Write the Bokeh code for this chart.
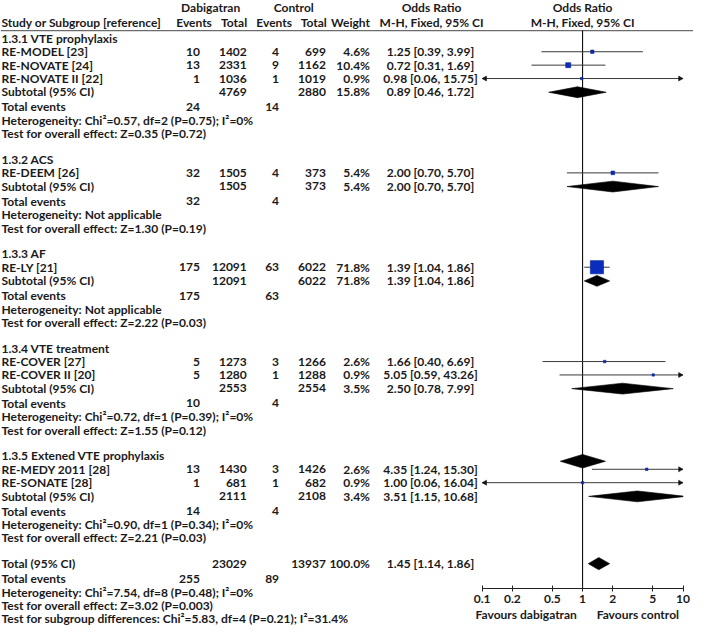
import numpy as np
from bokeh.plotting import figure
from bokeh.models import Range1d, LogScale, LogAxis, FixedTicker, ColumnDataSource
from bokeh.embed import file_html
from bokeh.resources import INLINE
from bokeh.core.properties import value

# ---------------- data ----------------
group_names = ["1.3.1 VTE prophylaxis", "1.3.2 ACS", "1.3.3 AF",
               "1.3.4 VTE treatment", "1.3.5 Extened VTE prophylaxis"]

study = ["RE-MODEL [23]", "RE-NOVATE [24]", "RE-NOVATE II [22]", "RE-DEEM [26]",
         "RE-LY [21]", "RE-COVER [27]", "RE-COVER II [20]", "RE-MEDY 2011 [28]",
         "RE-SONATE [28]"]
study_group = [0, 0, 0, 1, 2, 3, 3, 4, 4]
dab_events = [10, 13, 1, 32, 175, 5, 5, 13, 1]
dab_total = [1402, 2331, 1036, 1505, 12091, 1273, 1280, 1430, 681]
ctl_events = [4, 9, 1, 4, 63, 3, 1, 3, 1]
ctl_total = [699, 1162, 1019, 373, 6022, 1266, 1288, 1426, 682]
weight = [4.6, 10.4, 0.9, 5.4, 71.8, 2.6, 0.9, 2.6, 0.9]
or_est = [1.25, 0.72, 0.98, 2.00, 1.39, 1.66, 5.05, 4.35, 1.00]
or_lo = [0.39, 0.31, 0.06, 0.70, 1.04, 0.40, 0.59, 1.24, 0.06]
or_hi = [3.99, 1.69, 15.75, 5.70, 1.86, 6.69, 43.26, 15.30, 16.04]

sub_dab_total = [4769, 1505, 12091, 2553, 2111]
sub_ctl_total = [2880, 373, 6022, 2554, 2108]
sub_dab_events = [24, 32, 175, 10, 14]
sub_ctl_events = [14, 4, 63, 4, 4]
sub_weight = [15.8, 5.4, 71.8, 3.5, 3.4]
sub_or = [0.89, 2.00, 1.39, 2.50, 3.51]
sub_lo = [0.46, 0.70, 1.04, 0.78, 1.15]
sub_hi = [1.72, 5.70, 1.86, 7.99, 10.68]
sub_het = ["Chi\u00b2=0.57, df=2 (P=0.75); I\u00b2=0%",
           "Not applicable",
           "Not applicable",
           "Chi\u00b2=0.72, df=1 (P=0.39); I\u00b2=0%",
           "Chi\u00b2=0.90, df=1 (P=0.34); I\u00b2=0%"]
sub_test = ["Z=0.35 (P=0.72)", "Z=1.30 (P=0.19)", "Z=2.22 (P=0.03)",
            "Z=1.55 (P=0.12)", "Z=2.21 (P=0.03)"]

# stray diamond drawn near the header of subgroup 1.3.5 in the source figure
stray_group = 4
stray_or, stray_lo, stray_hi = 1.00, 0.60, 1.69

tot_dab_total, tot_ctl_total = 23029, 13937
tot_dab_events, tot_ctl_events = 255, 89
tot_weight = 100.0
tot_or, tot_lo, tot_hi = 1.45, 1.14, 1.86
tot_het = "Chi\u00b2=7.54, df=8 (P=0.48); I\u00b2=0%"
tot_test = "Z=3.02 (P=0.003)"
subgroup_test = "Chi\u00b2=5.83, df=4 (P=0.21); I\u00b2=31.4%"

axis_ticks = [0.1, 0.2, 0.5, 1, 2, 5, 10]
axis_labels = ["0.1", "0.2", "0.5", "1", "2", "5", "10"]
favours_left, favours_right = "Favours dabigatran", "Favours control"
favours_left_at, favours_right_at = 0.275, 3.55

# ---------------- layout (reference pixel space 709 x 643) ----------------
W_REF, H_REF = 709, 646
W, H = 693, 627
SX = W / W_REF
FS = f"{12.3 * SX:.2f}px"
FONT = "Lato"
TXT = "#1a1a1a"

X_ONE = 595.5      # pixel of OR = 1
DEC = 102.8        # pixels per decade
OR_MIN, OR_MAX = 0.1, 10.0

X_NAME, X_DE, X_DT, X_CE, X_CT, X_W, X_OR = 1, 204, 252, 285, 333, 378, 440
Y0, PITCH, PITCH_TE, GAP = 39.0, 13.8, 15.5, 26.5
Y_LINE, Y_AXIS = 31.0, 606.0

p = figure(width=W, height=H, x_range=Range1d(0, W_REF), y_range=Range1d(H_REF, 0),
           x_axis_location=None, y_axis_location=None, toolbar_location=None,
           output_backend="svg", min_border=0, outline_line_color=None)
p.xgrid.grid_line_color = None
p.ygrid.grid_line_color = None
p.background_fill_color = "white"
p.border_fill_color = "white"

lo_ref = 10 ** ((0 - X_ONE) / DEC)
hi_ref = 10 ** ((W_REF - X_ONE) / DEC)
p.extra_x_ranges = {"or": Range1d(lo_ref, hi_ref)}
p.extra_x_scales = {"or": LogScale()}

texts = {}


def add(x, y, t, align="left", bold=True):
    key = (align, bold)
    d = texts.setdefault(key, {"x": [], "y": [], "t": []})
    d["x"].append(x)
    d["y"].append(y)
    d["t"].append(t)


def fmt_or(e, l, h):
    return f"{e:.2f} [{l:.2f}, {h:.2f}]"


# header
add(215, 7, "Dabigatran", "center")
add(300, 7, "Control", "center")
add(441, 7, "Odds Ratio", "center")
add(595.5, 7, "Odds Ratio", "center")
add(X_NAME, 22.5, "Study or Subgroup [reference]", "left")
add(198, 22.5, "Events", "center")
add(239, 22.5, "Total", "center")
add(280, 22.5, "Events", "center")
add(320.5, 22.5, "Total", "center")
add(X_W, 22.5, "Weight", "right")
add(441, 22.5, "M-H, Fixed, 95% CI", "center")
add(595.5, 22.5, "M-H, Fixed, 95% CI", "center")

ci_x0, ci_x1, ci_y = [], [], []
sq_x, sq_y, sq_s = [], [], []
dia_xs, dia_ys = [], []
arr_xs, arr_ys = [], []

ARR_L = 4.5 / DEC
ARR_H = 2.6


def diamond(e, l, h, y, hh):
    le, ll, lh = np.log10(e), np.log10(l), np.log10(h)
    xs, ys = [l, e], [y, y - hh]
    if h > OR_MAX:
        t = (np.log10(OR_MAX) - le) / (lh - le)
        xs += [OR_MAX, OR_MAX]
        ys += [y - hh * (1 - t), y + hh * (1 - t)]
    else:
        xs += [h]
        ys += [y]
    xs += [e]
    ys += [y + hh]
    dia_xs.append(xs)
    dia_ys.append(ys)


y = Y0
header_y = []
for g in range(len(group_names)):
    add(X_NAME, y, group_names[g], "left")
    header_y.append(y)
    for i in range(len(study)):
        if study_group[i] != g:
            continue
        y += PITCH
        add(X_NAME, y, study[i], "left")
        add(X_DE, y, str(dab_events[i]), "right")
        add(X_DT, y, str(dab_total[i]), "right")
        add(X_CE, y, str(ctl_events[i]), "right")
        add(X_CT, y, str(ctl_total[i]), "right")
        add(X_W, y, f"{weight[i]:.1f}%", "right")
        add(X_OR, y, fmt_or(or_est[i], or_lo[i], or_hi[i]), "center")
        lo = max(or_lo[i], OR_MIN)
        hi = min(or_hi[i], OR_MAX)
        ci_x0.append(lo); ci_x1.append(hi); ci_y.append(y)
        sq_x.append(or_est[i]); sq_y.append(y)
        sq_s.append(max(2.4, 13.5 * np.sqrt(weight[i] / 71.8)) * SX)
        if or_lo[i] < OR_MIN:
            b = 10 ** (np.log10(OR_MIN) + ARR_L)
            arr_xs.append([OR_MIN, b, b]); arr_ys.append([y, y - ARR_H, y + ARR_H])
        if or_hi[i] > OR_MAX:
            b = 10 ** (np.log10(OR_MAX) - ARR_L)
            arr_xs.append([OR_MAX, b, b]); arr_ys.append([y, y - ARR_H, y + ARR_H])
    y += PITCH
    add(X_NAME, y, "Subtotal (95% CI)")
    add(X_DT, y, str(sub_dab_total[g]), "right")
    add(X_CT, y, str(sub_ctl_total[g]), "right")
    add(X_W, y, f"{sub_weight[g]:.1f}%", "right")
    add(X_OR, y, fmt_or(sub_or[g], sub_lo[g], sub_hi[g]), "center")
    diamond(sub_or[g], sub_lo[g], sub_hi[g], y + 0.3, 5.6)
    y += PITCH_TE
    add(X_NAME, y, "Total events")
    add(X_DE, y, str(sub_dab_events[g]), "right")
    add(X_CE, y, str(sub_ctl_events[g]), "right")
    y += PITCH
    add(X_NAME, y, "Heterogeneity: " + sub_het[g])
    y += PITCH
    add(X_NAME, y, "Test for overall effect: " + sub_test[g])
    y += GAP

diamond(stray_or, stray_lo, stray_hi, header_y[stray_group] + 5.5, 7.0)

add(X_NAME, y, "Total (95% CI)")
add(X_DT, y, str(tot_dab_total), "right")
add(X_CT, y, str(tot_ctl_total), "right")
add(X_W, y, f"{tot_weight:.1f}%", "right")
add(X_OR, y, fmt_or(tot_or, tot_lo, tot_hi), "center")
diamond(tot_or, tot_lo, tot_hi, y, 6.3)
y += PITCH_TE
add(X_NAME, y, "Total events")
add(X_DE, y, str(tot_dab_events), "right")
add(X_CE, y, str(tot_ctl_events), "right")
y += PITCH
add(X_NAME, y, "Heterogeneity: " + tot_het)
y += PITCH
add(X_NAME, y, "Test for overall effect: " + tot_test)
y += PITCH
add(X_NAME, y, "Test for subgroup differences: " + subgroup_test)

# header rule
p.segment(x0=[0], y0=[Y_LINE], x1=[W_REF], y1=[Y_LINE], line_color="#6b6b6b", line_width=1.4)

# vertical line of no effect
p.segment(x0=[1.0], y0=[Y_LINE], x1=[1.0], y1=[Y_AXIS], x_range_name="or",
          line_color="#111111", line_width=1.1)

# CI lines
p.segment(x0=ci_x0, y0=ci_y, x1=ci_x1, y1=ci_y, x_range_name="or",
          line_color="#3a3a3a", line_width=1.0)
p.patches(xs=arr_xs, ys=arr_ys, x_range_name="or", fill_color="#111111",
          line_color="#111111", line_width=0.5)

# squares
p.scatter(x=sq_x, y=sq_y, size=sq_s, marker="square", x_range_name="or",
          fill_color="#0b2dbd", line_color="#0a2396", line_width=0.6)

# diamonds
p.patches(xs=dia_xs, ys=dia_ys, x_range_name="or", fill_color="black",
          line_color="black", line_width=0.6)

# texts
for (align, bold), d in texts.items():
    src = ColumnDataSource(dict(x=d["x"], y=d["y"], t=d["t"]))
    p.text(x="x", y="y", text="t", source=src, text_align=align, text_baseline="middle",
           text_font=value(FONT), text_font_size=FS,
           text_font_style="bold" if bold else "normal", text_color=TXT)

p.text(x=[favours_left_at, favours_right_at], y=[633, 633],
       text=[favours_left, favours_right], x_range_name="or", text_align="center",
       text_baseline="middle", text_font=value(FONT), text_font_size=FS,
       text_font_style="bold", text_color=TXT)

# axis
ax = LogAxis(x_range_name="or", fixed_location=Y_AXIS, bounds=(OR_MIN, OR_MAX),
             ticker=FixedTicker(ticks=axis_ticks, minor_ticks=[]),
             major_label_overrides={t: l for t, l in zip(axis_ticks, axis_labels)})
ax.axis_line_color = "#222222"
ax.axis_line_width = 1.0
ax.major_tick_line_color = "#222222"
ax.major_tick_in = 3
ax.major_tick_out = 3
ax.minor_tick_line_color = None
ax.major_label_standoff = 3
ax.major_label_text_font = FONT
ax.major_label_text_font_size = FS
ax.major_label_text_font_style = "bold"
ax.major_label_text_color = TXT
p.add_layout(ax, "below")

open("out.html", "w").write(file_html(p, INLINE))
